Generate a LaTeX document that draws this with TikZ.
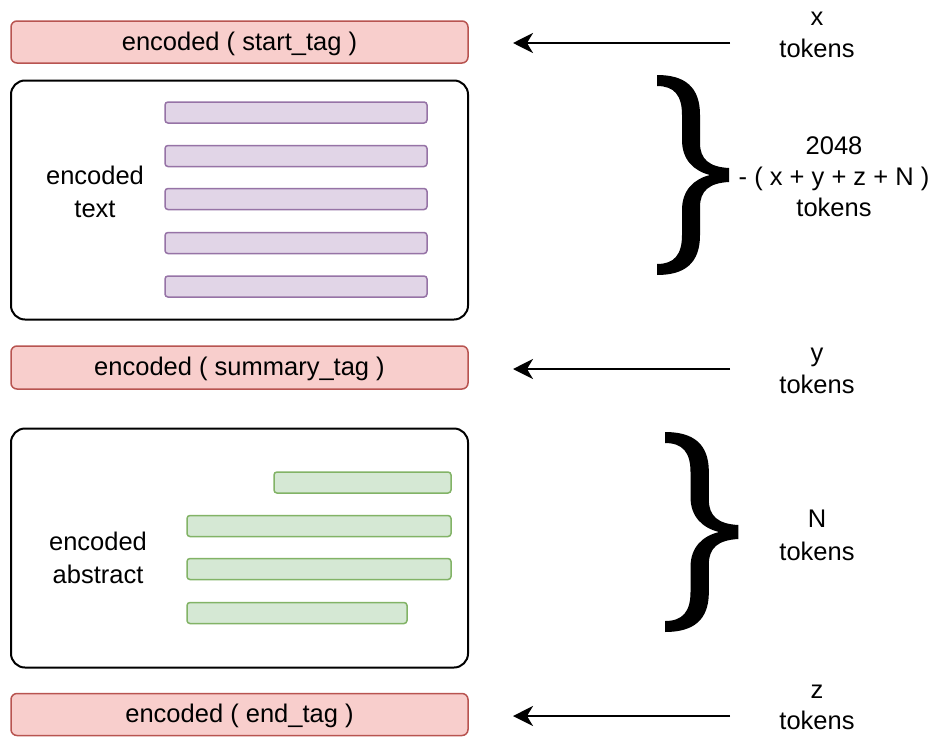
\documentclass[tikz,border=0pt]{standalone}
\usepackage{fontspec}
\setmainfont{Liberation Sans}
\usetikzlibrary{arrows.meta}
\definecolor{redfill}{HTML}{F8CECC}
\definecolor{redline}{HTML}{B85450}
\definecolor{purfill}{HTML}{E1D5E7}
\definecolor{purline}{HTML}{9673A6}
\definecolor{grnfill}{HTML}{D5E8D4}
\definecolor{grnline}{HTML}{82B366}
\newcommand{\labfont}{\fontsize{25.5}{31}\selectfont}
\tikzset{
  tagbox/.style={draw=redline, fill=redfill, line width=1.5pt, rounded corners=6pt,
    minimum width=457pt, minimum height=42pt, inner sep=0pt, font=\labfont,
    text height=20pt, text depth=4pt},
  bigbox/.style={draw=black, fill=white, line width=2pt, rounded corners=14pt,
    minimum width=457pt, minimum height=239pt, inner sep=0pt},
  purbar/.style={draw=purline, fill=purfill, line width=1.5pt, rounded corners=3pt,
    minimum width=262pt, minimum height=21pt, inner sep=0pt},
  grnbar/.style={draw=grnline, fill=grnfill, line width=1.5pt, rounded corners=3pt,
    minimum height=21pt, inner sep=0pt},
  lbl/.style={font=\labfont, anchor=base, inner sep=0pt},
  arr/.style={line width=2pt, -{Stealth[length=20pt, width=20pt, inset=6pt]}},
  bracefill/.style={fill=black}
}
\newcommand{\bracepath}{%
  (0,0) .. controls (28,0) and (43,12) .. (43,40)
  -- (43,68)
  .. controls (43,84) and (52,92) .. (72,93)
  -- (72,107)
  .. controls (52,108) and (43,116) .. (43,132)
  -- (43,160)
  .. controls (43,188) and (28,200) .. (0,200)
  -- (0,189)
  .. controls (17,189) and (25,180) .. (25,160)
  -- (25,135)
  .. controls (25,115) and (37,104) .. (53,100)
  .. controls (37,96) and (25,85) .. (25,65)
  -- (25,40)
  .. controls (25,20) and (17,11) .. (0,11)
  -- cycle}
\begin{document}
\begin{tikzpicture}[x=1pt, y=-1pt]
\useasboundingbox (0,0) rectangle (941,736);
\fill[white] (0,0) rectangle (941,736);

% tag boxes
\node[tagbox] (start) at (239.5,42) {encoded ( start\_tag )};
\node[tagbox, minimum height=43pt] (summary) at (239.5,367.5) {encoded ( summary\_tag )};
\node[tagbox] (endtag) at (239.5,714.5) {encoded ( end\_tag )};

% big boxes
\node[bigbox] (textbox) at (239.5,200) {};
\node[bigbox] (absbox) at (239.5,548) {};

% purple bars
\node[purbar] (p1) at (296,112.5) {};
\node[purbar] (p2) at (296,156) {};
\node[purbar] (p3) at (296,199) {};
\node[purbar] (p4) at (296,243) {};
\node[purbar] (p5) at (296,286.5) {};

% green bars
\node[grnbar, minimum width=177pt] (g1) at (362.5,482.5) {};
\node[grnbar, minimum width=264pt] (g2) at (319,526) {};
\node[grnbar, minimum width=264pt] (g3) at (319,569) {};
\node[grnbar, minimum width=220pt] (g4) at (297,613) {};

% left labels
\node[lbl] (t1) at (95,184) {encoded};
\node[lbl] (t2) at (95,217) {text};
\node[lbl] (a1) at (98,550) {encoded};
\node[lbl] (a2) at (98,583) {abstract};

% right labels
\node[lbl] (xl) at (817,25.5) {x};
\node[lbl] (xt) at (817,57) {tokens};
\node[lbl] (yl) at (817,361) {y};
\node[lbl] (yt) at (817,393) {tokens};
\node[lbl] (zl) at (817,698) {z};
\node[lbl] (zt) at (817,729) {tokens};
\node[lbl] (nl) at (817,527) {N};
\node[lbl] (nt) at (817,560) {tokens};
\node[lbl] (c1) at (834,154) {2048};
\node[lbl] (c2) at (834,185) {- ( x + y + z + N )};
\node[lbl] (c3) at (834,216) {tokens};

% arrows
\coordinate (s1) at (730,43);  \coordinate (e1) at (513,43);
\coordinate (s2) at (730,369); \coordinate (e2) at (513,369);
\coordinate (s3) at (730,716); \coordinate (e3) at (513,716);
\draw[arr] (s1) -- (e1);
\draw[arr] (s2) -- (e2);
\draw[arr] (s3) -- (e3);

% braces
\begin{scope}[shift={(657,75)}]
  \fill[bracefill] \bracepath;
\end{scope}
\begin{scope}[shift={(665,432)}, xscale=1.02]
  \fill[bracefill] \bracepath;
\end{scope}
\end{tikzpicture}
\end{document}
